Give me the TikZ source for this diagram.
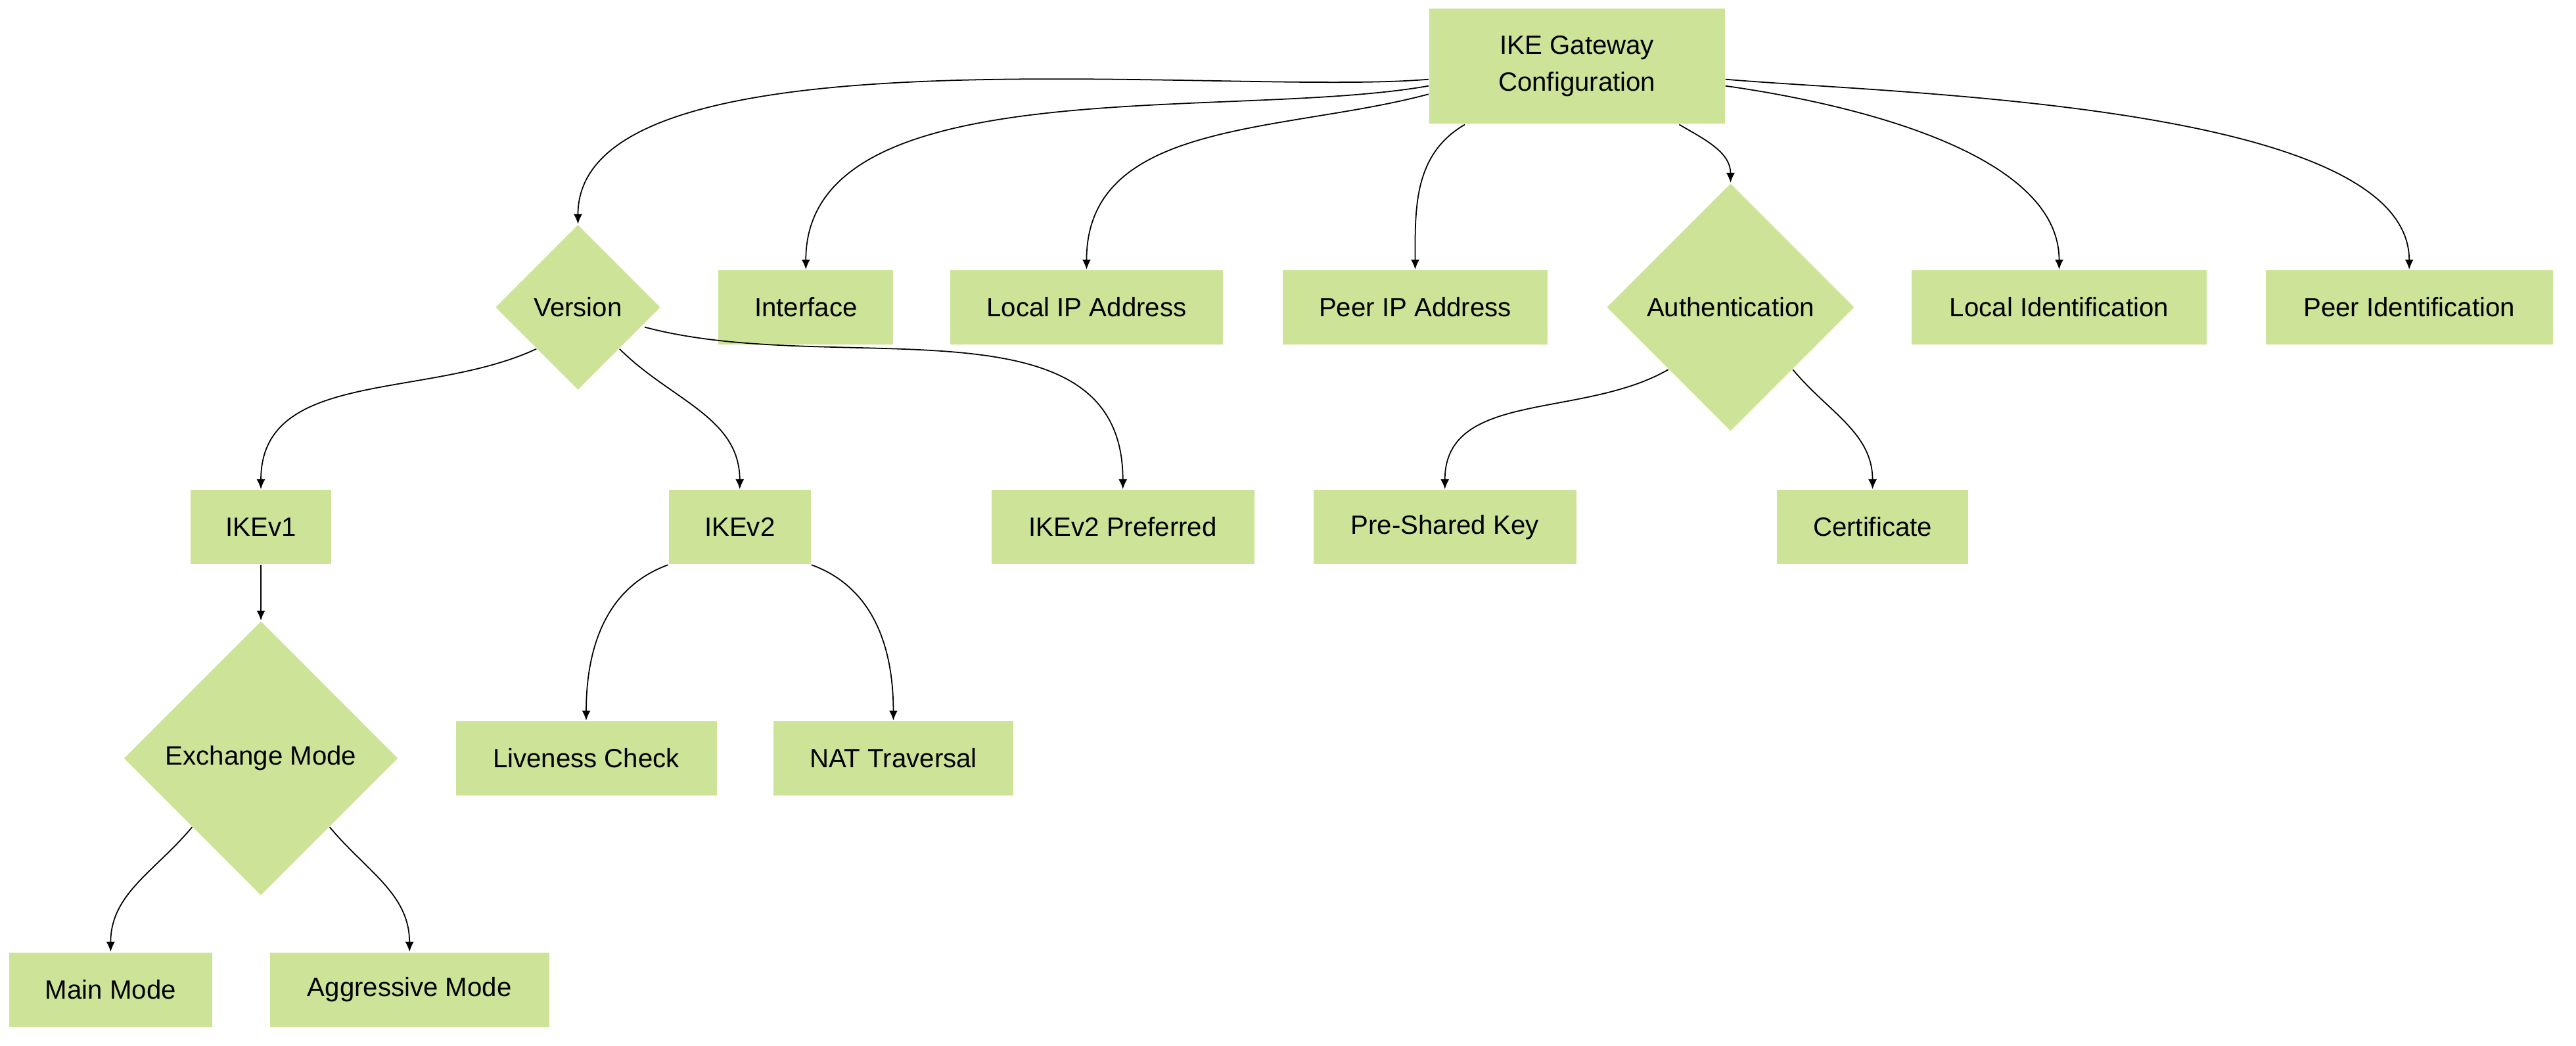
\documentclass[tikz,border=0pt]{standalone}
\usepackage{fontspec}
\setmainfont{Liberation Sans}
\usetikzlibrary{shapes.geometric,arrows.meta}

\tikzset{
  box/.style={rectangle, fill=nodegreen, inner sep=0pt, minimum height=22.5pt, font=\fontsize{8}{11}\selectfont},
  dia/.style={diamond, fill=nodegreen, inner sep=0pt, aspect=1, font=\fontsize{8}{11}\selectfont},
  edge/.style={draw=black, line width=0.35pt, -{Latex[length=3pt,width=2.6pt]}}
}
\definecolor{nodegreen}{HTML}{CDE498}

\begin{document}
\begin{tikzpicture}[x=0.5pt,y=-0.5pt]
\useasboundingbox (0,0) rectangle (1560,633);
% top level
\node[box, minimum width=89.5pt, minimum height=35pt, align=center] (root) at (955,40) {IKE Gateway\\Configuration};
\node[dia, minimum size=50pt] (ver) at (350,186) {Version};
\node[box, minimum width=53pt] (iface) at (488,186) {Interface};
\node[box, minimum width=82.5pt] (lip) at (658,186) {Local IP Address};
\node[box, minimum width=80pt] (pip) at (857,186) {Peer IP Address};
\node[dia, minimum size=75pt] (auth) at (1048,186) {Authentication};
\node[box, minimum width=89.5pt] (lid) at (1247,186) {Local Identification};
\node[box, minimum width=87pt] (pid) at (1459,186) {Peer Identification};
% version
\node[box, minimum width=42.5pt] (v1) at (158,319) {IKEv1};
\node[box, minimum width=43pt] (v2) at (448,319) {IKEv2};
\node[box, minimum width=79.5pt] (v2p) at (680,319) {IKEv2 Preferred};
% authentication
\node[box, minimum width=79.5pt] (psk) at (875,319) {Pre-Shared Key};
\node[box, minimum width=58pt] (cert) at (1134,319) {Certificate};
% lower levels
\node[dia, minimum size=83pt] (xm) at (158,459) {Exchange Mode};
\node[box, minimum width=79pt] (live) at (355,459) {Liveness Check};
\node[box, minimum width=72.5pt] (nat) at (541,459) {NAT Traversal};
\node[box, minimum width=61.5pt] (main) at (67,599) {Main Mode};
\node[box, minimum width=84.5pt] (aggr) at (248,599) {Aggressive Mode};

\draw[edge] (root.west) ++(0,8) to[out=185,in=90,looseness=0.6] (ver.north);
\draw[edge] (root.west) ++(0,12) to[out=190,in=90,looseness=0.8] (iface.north);
\draw[edge] (root.west) ++(0,17) to[out=195,in=90] (lip.north);
\draw[edge] (root.south west) ++(22,0) to[out=210,in=90] (pip.north);
\draw[edge] (root.south east) ++(-28,0) to[out=-30,in=90] (auth.north);
\draw[edge] (root.east) ++(0,12) to[out=-8,in=90,looseness=0.8] (lid.north);
\draw[edge] (root.east) ++(0,8) to[out=-5,in=90,looseness=0.6] (pid.north);
\draw[edge] (ver.south west) to[out=205,in=90] (v1.north);
\draw[edge] (ver.south east) to[out=-45,in=90] (v2.north);
\draw[edge] (ver.east) ++(-10,12) to[out=-15,in=90] (v2p.north);
\draw[edge] (auth.south west) to[out=210,in=90] (psk.north);
\draw[edge] (auth.south east) to[out=-50,in=90] (cert.north);
\draw[edge] (v1) -- (xm.north);
\draw[edge] (v2.south west) to[out=200,in=90] (live.north);
\draw[edge] (v2.south east) to[out=-20,in=90] (nat.north);
\draw[edge] (xm.south west) to[out=-130,in=90] (main.north);
\draw[edge] (xm.south east) to[out=-50,in=90] (aggr.north);
\end{tikzpicture}
\end{document}
